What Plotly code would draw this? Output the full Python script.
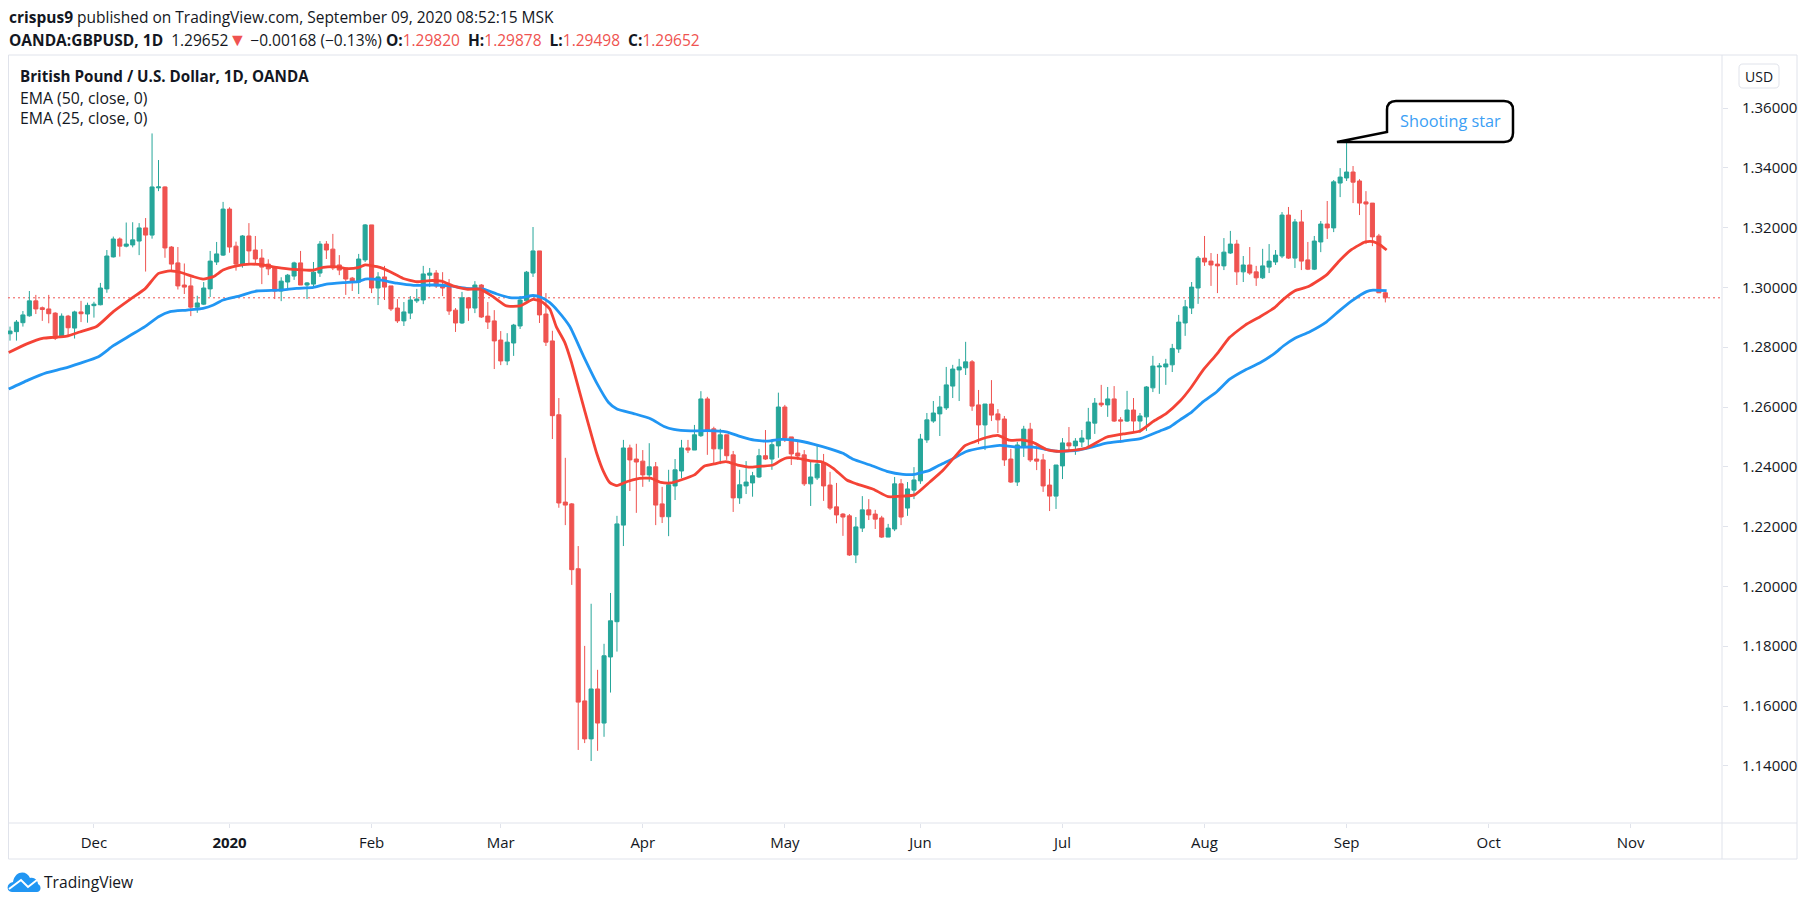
import plotly.graph_objects as go

## daily GBPUSD candles
opens = [1.2845,1.2852,1.2882,1.2905,1.2955,1.2932,1.2928,1.2914,1.2835,1.2904,
         1.2864,1.2918,1.2911,1.2939,1.2942,1.2995,1.3102,1.3162,1.3138,1.3142,
         1.3155,1.3199,1.3175,1.3333,1.3336,1.3135,1.3082,1.3008,1.3005,1.2934,
         1.2944,1.2995,1.3085,1.3108,1.3262,1.3138,1.3075,1.3172,1.3125,1.3098,
         1.3078,1.3065,1.2988,1.3018,1.3038,1.3082,1.3008,1.3011,1.3048,1.3145,
         1.3128,1.3075,1.3065,1.3031,1.3018,1.3092,1.3209,1.2998,1.3035,1.3005,
         1.2931,1.2888,1.2914,1.2955,1.2958,1.3041,1.3048,1.3008,1.3001,1.2924,
         1.2881,1.2965,1.2931,1.3008,1.2904,1.2888,1.2824,1.2754,1.2814,1.2871,
         1.2955,1.3048,1.3122,1.2911,1.2821,1.2574,1.2282,1.2276,1.2059,1.1617,
         1.1490,1.1657,1.1543,1.1764,1.1882,1.2205,1.2463,1.2426,1.2419,1.2373,
         1.2400,1.2276,1.2233,1.2336,1.2386,1.2463,1.2456,1.2504,1.2627,1.2527,
         1.2460,1.2507,1.2440,1.2296,1.2336,1.2346,1.2366,1.2437,1.2426,1.2470,
         1.2600,1.2500,1.2446,1.2440,1.2343,1.2363,1.2413,1.2339,1.2266,1.2242,
         1.2236,1.2105,1.2195,1.2256,1.2242,1.2229,1.2165,1.2192,1.2343,1.2262,
         1.2322,1.2353,1.2490,1.2553,1.2577,1.2597,1.2670,1.2724,1.2731,1.2751,
         1.2607,1.2540,1.2610,1.2577,1.2560,1.2426,1.2349,1.2470,1.2526,1.2426,
         1.2423,1.2339,1.2302,1.2403,1.2480,1.2470,1.2483,1.2493,1.2546,1.2613,
         1.2607,1.2627,1.2557,1.2553,1.2590,1.2553,1.2567,1.2664,1.2734,1.2734,
         1.2741,1.2794,1.2881,1.2931,1.2998,1.3098,1.3088,1.3078,1.3072,1.3115,
         1.3145,1.3052,1.3075,1.3052,1.3032,1.3068,1.3085,1.3105,1.3242,1.3098,
         1.3219,1.3092,1.3061,1.3152,1.3212,1.3199,1.3349,1.3366,1.3386,1.3356,
         1.3286,1.3282,1.3172,1.29820]
highs = [1.2869,1.2891,1.2921,1.2988,1.2975,1.2936,1.2975,1.2917,1.2913,1.2908,
         1.2922,1.2955,1.2949,1.2952,1.3015,1.3125,1.3170,1.3167,1.3217,1.3218,
         1.3215,1.3232,1.3515,1.3426,1.3338,1.3138,1.3135,1.3080,1.3034,1.2972,
         1.3018,1.3122,1.3152,1.3286,1.3268,1.3153,1.3175,1.3215,1.3172,1.3128,
         1.3094,1.3068,1.3034,1.3045,1.3086,1.3122,1.3018,1.3085,1.3155,1.3155,
         1.3179,1.3108,1.3065,1.3035,1.3112,1.3212,1.3209,1.3051,1.3072,1.3005,
         1.2961,1.2951,1.2971,1.2995,1.3072,1.3065,1.3058,1.3051,1.3028,1.2931,
         1.2985,1.2968,1.3021,1.3011,1.2951,1.2924,1.2854,1.2847,1.2878,1.2971,
         1.3055,1.3202,1.3122,1.2981,1.2855,1.2630,1.2430,1.2279,1.2135,1.1801,
         1.1942,1.1721,1.1808,1.1978,1.2236,1.2490,1.2474,1.2477,1.2456,1.2479,
         1.2416,1.2333,1.2390,1.2426,1.2490,1.2490,1.2540,1.2653,1.2634,1.2534,
         1.2527,1.2507,1.2453,1.2390,1.2419,1.2383,1.2460,1.2523,1.2487,1.2648,
         1.2607,1.2500,1.2490,1.2456,1.2423,1.2470,1.2443,1.2383,1.2346,1.2245,
         1.2242,1.2232,1.2302,1.2292,1.2256,1.2236,1.2209,1.2366,1.2359,1.2349,
         1.2399,1.2510,1.2580,1.2620,1.2637,1.2734,1.2741,1.2761,1.2818,1.2757,
         1.2657,1.2610,1.2690,1.2593,1.2570,1.2460,1.2483,1.2537,1.2547,1.2470,
         1.2443,1.2393,1.2406,1.2496,1.2533,1.2496,1.2523,1.2597,1.2630,1.2674,
         1.2667,1.2670,1.2566,1.2654,1.2630,1.2580,1.2670,1.2771,1.2747,1.2761,
         1.2811,1.2908,1.2958,1.3018,1.3105,1.3172,1.3115,1.3112,1.3165,1.3189,
         1.3159,1.3105,1.3135,1.3072,1.3129,1.3145,1.3125,1.3252,1.3269,1.3229,
         1.3259,1.3152,1.3172,1.3222,1.3289,1.3359,1.3399,1.3486,1.3406,1.3362,
         1.3322,1.3282,1.3179,1.29878]
lows = [1.2822,1.2822,1.2869,1.2902,1.2911,1.2888,1.2880,1.2824,1.2833,1.2835,
        1.2829,1.2884,1.2882,1.2899,1.2940,1.2982,1.3100,1.3103,1.3134,1.3134,
        1.3108,1.3053,1.3163,1.3322,1.3099,1.3058,1.2993,1.2978,1.2904,1.2915,
        1.2941,1.2968,1.3075,1.3105,1.3116,1.3056,1.3066,1.3080,1.3075,1.3011,
        1.3041,1.2961,1.2954,1.2991,1.3025,1.3008,1.2961,1.2998,1.3035,1.3095,
        1.3058,1.3041,1.2975,1.2988,1.2978,1.3085,1.2981,1.2941,1.2958,1.2921,
        1.2881,1.2871,1.2894,1.2948,1.2944,1.3001,1.2998,1.2971,1.2908,1.2851,
        1.2878,1.2888,1.2914,1.2898,1.2861,1.2727,1.2740,1.2740,1.2771,1.2861,
        1.2951,1.3035,1.2881,1.2804,1.2493,1.2263,1.2205,1.2005,1.1453,1.1476,
        1.1416,1.1450,1.1497,1.1645,1.1782,1.2135,1.2319,1.2246,1.2333,1.2350,
        1.2205,1.2212,1.2168,1.2289,1.2362,1.2446,1.2456,1.2500,1.2440,1.2413,
        1.2409,1.2423,1.2249,1.2276,1.2309,1.2300,1.2363,1.2423,1.2390,1.2430,
        1.2483,1.2406,1.2423,1.2336,1.2269,1.2356,1.2286,1.2256,1.2211,1.2169,
        1.2102,1.2078,1.2182,1.2222,1.2192,1.2162,1.2165,1.2185,1.2205,1.2236,
        1.2292,1.2343,1.2480,1.2547,1.2503,1.2590,1.2630,1.2620,1.2707,1.2587,
        1.2476,1.2456,1.2553,1.2513,1.2403,1.2346,1.2336,1.2433,1.2416,1.2389,
        1.2316,1.2252,1.2259,1.2359,1.2456,1.2440,1.2466,1.2463,1.2510,1.2600,
        1.2567,1.2550,1.2480,1.2550,1.2516,1.2513,1.2520,1.2650,1.2644,1.2674,
        1.2717,1.2781,1.2838,1.2911,1.2945,1.3072,1.3005,1.2981,1.3058,1.3112,
        1.3008,1.3018,1.3042,1.3005,1.3028,1.3048,1.3075,1.3098,1.3095,1.3065,
        1.3058,1.3058,1.3058,1.3118,1.3162,1.3185,1.3302,1.3356,1.3282,1.3242,
        1.3145,1.3138,1.2982,1.29498]
closes = [1.2854,1.2884,1.2908,1.2955,1.2928,1.2926,1.2912,1.2830,1.2904,1.2865,
          1.2918,1.2912,1.2940,1.2944,1.2998,1.3105,1.3162,1.3138,1.3145,1.3159,
          1.3199,1.3175,1.3336,1.3336,1.3132,1.3078,1.3005,1.3001,1.2934,1.2948,
          1.2998,1.3088,1.3112,1.3262,1.3135,1.3078,1.3172,1.3122,1.3095,1.3068,
          1.3062,1.2988,1.3021,1.3041,1.3082,1.3008,1.3015,1.3051,1.3145,1.3125,
          1.3065,1.3058,1.3028,1.3021,1.3095,1.3209,1.2998,1.3035,1.3001,1.2928,
          1.2888,1.2918,1.2958,1.2961,1.3045,1.3048,1.3005,1.2998,1.2921,1.2881,
          1.2965,1.2931,1.3008,1.2901,1.2884,1.2821,1.2754,1.2817,1.2874,1.2958,
          1.3051,1.3122,1.2908,1.2817,1.2571,1.2279,1.2272,1.2056,1.1613,1.1490,
          1.1657,1.1543,1.1768,1.1885,1.2209,1.2463,1.2423,1.2416,1.2373,1.2400,
          1.2272,1.2233,1.2340,1.2390,1.2463,1.2456,1.2507,1.2627,1.2523,1.2460,
          1.2507,1.2437,1.2296,1.2340,1.2349,1.2370,1.2437,1.2426,1.2474,1.2600,
          1.2496,1.2443,1.2436,1.2343,1.2366,1.2409,1.2336,1.2262,1.2239,1.2232,
          1.2105,1.2199,1.2256,1.2239,1.2225,1.2165,1.2195,1.2343,1.2232,1.2326,
          1.2356,1.2493,1.2557,1.2580,1.2600,1.2674,1.2727,1.2734,1.2751,1.2603,
          1.2540,1.2610,1.2573,1.2557,1.2423,1.2349,1.2473,1.2526,1.2423,1.2419,
          1.2336,1.2302,1.2406,1.2480,1.2470,1.2486,1.2496,1.2550,1.2613,1.2607,
          1.2627,1.2553,1.2553,1.2590,1.2553,1.2570,1.2667,1.2737,1.2737,1.2744,
          1.2796,1.2884,1.2935,1.3001,1.3098,1.3085,1.3075,1.3072,1.3118,1.3145,
          1.3052,1.3075,1.3048,1.3032,1.3072,1.3088,1.3108,1.3242,1.3098,1.3219,
          1.3088,1.3061,1.3155,1.3212,1.3199,1.3353,1.3369,1.3386,1.3352,1.3282,
          1.3279,1.3169,1.2982,1.29652]

## EMA lines, points taken along each curve (bar position, price)
ema25_bar = [-0.2,2.6,5.2,6.7,8.8,10.8,13.4,16,18.6,20.9,23,24.8,26.6,28.4,29.9,31.5,33,35.1,37.2,39.2,
             41.3,43.9,47,48.5,50.6,52.1,53.9,55,57.3,58.8,60.9,63,65,66.8,68.6,70.7,72.8,74.8,76.9,79,81,
             82.3,83.6,84.6,85.9,86.9,88.8,90.9,91.9,92.9,94,95.5,97.1,99.2,100.8,102.3,103.9,106,107.5,
             109.1,110.9,112.7,114.8,116.4,118.2,119.5,120.3,122.1,123.9,125.7,127.5,129.6,131.1,133.7,136,
             138.3,140.1,142.5,144.3,146.1,147.9,149.4,151.2,153,154.8,156.6,158.5,160.5,162.1,164.1,166.7,
             169.8,172.4,175,177,179.1,181.2,182.8,184.8,186.9,188.9,191.3,193.6,195.9,197.2,199,201.1,
             203.9,206,207.8,209.9,211.1,212.2,213.2]
ema25 = [1.2782,1.2811,1.2830,1.2833,1.2837,1.2851,1.2869,1.2919,1.2960,1.2995,1.3047,1.3055,1.3049,1.3036,
         1.3028,1.3036,1.3058,1.3072,1.3078,1.3075,1.3067,1.3060,1.3058,1.3067,1.3069,1.3063,1.3066,1.3075,
         1.3067,1.3053,1.3030,1.3019,1.3023,1.3021,1.3005,1.2994,1.2994,1.2969,1.2938,1.2938,1.2960,1.2953,
         1.2928,1.2869,1.2817,1.2753,1.2604,1.2443,1.2385,1.2347,1.2337,1.2350,1.2360,1.2362,1.2348,1.2346,
         1.2356,1.2373,1.2402,1.2410,1.2417,1.2406,1.2399,1.2402,1.2406,1.2423,1.2430,1.2428,1.2420,1.2417,
         1.2395,1.2356,1.2343,1.2325,1.2300,1.2302,1.2306,1.2350,1.2384,1.2428,1.2471,1.2484,1.2498,1.2505,
         1.2489,1.2490,1.2481,1.2458,1.2452,1.2454,1.2463,1.2499,1.2510,1.2520,1.2551,1.2579,1.2620,1.2662,
         1.2724,1.2777,1.2833,1.2874,1.2902,1.2933,1.2960,1.2989,1.3003,1.3042,1.3092,1.3127,1.3152,1.3153,
         1.3142,1.3125]
ema50_bar = [-0.2,2.8,5.7,8.3,10.8,13.7,16,18.6,20.9,23,24.8,27.4,29.9,31.5,33,35.6,38.2,41.8,44.4,47,49,
             51.6,53.9,55,57.3,59.9,62.5,65.5,68.1,70.7,73.3,75.4,77.4,79.5,81,82.3,83.6,84.9,86.7,88.8,
             90.9,92.7,94,96.6,99.2,101.3,102.8,105.4,108,110.9,113.3,115.3,117.4,119.5,121.8,124.4,127,
             129,130.6,133.2,135.8,138.3,140.1,142.5,144,146.1,148.1,150.7,153.3,155.9,158.5,160.5,162.1,
             165.2,167.2,169.8,172.4,175.2,178.1,179.7,181.2,183,184.8,186.9,188.9,191.3,193.6,195.9,197.2,
             199,201.3,203.9,206,207.8,210.1,211.1,213.2]
ema50 = [1.2660,1.2690,1.2715,1.2729,1.2746,1.2768,1.2805,1.2839,1.2869,1.2902,1.2919,1.2924,1.2930,1.2941,
         1.2958,1.2972,1.2988,1.2991,1.2997,1.3000,1.3011,1.3016,1.3019,1.3028,1.3025,1.3014,1.3007,1.3008,
         1.3005,1.2997,1.2994,1.2978,1.2966,1.2967,1.2973,1.2966,1.2949,1.2920,1.2869,1.2771,1.2679,1.2615,
         1.2593,1.2578,1.2561,1.2535,1.2525,1.2520,1.2521,1.2517,1.2500,1.2489,1.2486,1.2492,1.2488,1.2476,
         1.2460,1.2445,1.2425,1.2406,1.2385,1.2375,1.2375,1.2389,1.2406,1.2428,1.2451,1.2464,1.2472,1.2466,
         1.2466,1.2458,1.2452,1.2455,1.2464,1.2479,1.2486,1.2495,1.2520,1.2534,1.2557,1.2583,1.2618,1.2651,
         1.2693,1.2724,1.2748,1.2780,1.2804,1.2830,1.2852,1.2885,1.2924,1.2955,1.2986,1.2991,1.2989]

last_price = closes[-1]
price_ticks = [1.14,1.16,1.18,1.20,1.22,1.24,1.26,1.28,1.30,1.32,1.34,1.36]
month_labels = ["Dec","<b>2020</b>","Feb","Mar","Apr","May","Jun","Jul","Aug","Sep","Oct","Nov"]
month_bars = [13,34,56,76,98,120,141,163,185,207,229,251]

RED = "#ef5350"
GREEN = "#26a69a"
BLUE = "#2196f3"
LINE_RED = "#f44336"
BORDER = "#e0e3eb"
TEXT = "#131722"
FONT = "Open Sans"

FIG_W, FIG_H = 1805, 906

## pixel position of the plot frame in the window -> paper coords
LEFT, RIGHT, TOP, BOTTOM = 8, 1722, 55, 823
def px(x):
    return (x-LEFT)/(RIGHT-LEFT)
def py(y):
    return (BOTTOM-y)/(BOTTOM-TOP)
def pt(x, y):
    return f"{px(x):.5f},{py(y):.5f}"

bars = list(range(len(closes)))

fig = go.Figure()
fig.add_trace(go.Candlestick(x=bars, open=opens, high=highs, low=lows, close=closes,
                             increasing=dict(line=dict(color=GREEN, width=1), fillcolor=GREEN),
                             decreasing=dict(line=dict(color=RED, width=1), fillcolor=RED),
                             showlegend=False, hoverinfo="skip"))
fig.add_trace(go.Scatter(x=ema50_bar, y=ema50, mode="lines", showlegend=False,
                         line=dict(color=BLUE, width=2.8, shape="spline", smoothing=0.5)))
fig.add_trace(go.Scatter(x=ema25_bar, y=ema25, mode="lines", showlegend=False,
                         line=dict(color=LINE_RED, width=2.8, shape="spline", smoothing=0.5)))

shapes = [
    dict(type="rect", xref="paper", yref="paper", x0=px(8.5), x1=px(1797), y0=py(55), y1=py(859),
         line=dict(color=BORDER, width=1), layer="below"),
    dict(type="line", xref="paper", yref="paper", x0=1, x1=1, y0=py(55), y1=py(859),
         line=dict(color=BORDER, width=1), layer="below"),
    dict(type="line", xref="paper", yref="paper", x0=0, x1=px(1797), y0=0, y1=0,
         line=dict(color=BORDER, width=1), layer="below"),
    dict(type="line", xref="paper", yref="y", x0=0, x1=1, y0=last_price, y1=last_price,
         line=dict(color=RED, width=1, dash="2px,3px"), layer="below"),
]

## callout with the pointer
callout = ("M" + pt(1337, 142) + " L" + pt(1387, 132) + " L" + pt(1387, 110)
           + " Q" + pt(1387, 101) + " " + pt(1396, 101) + " L" + pt(1504, 101)
           + " Q" + pt(1513, 101) + " " + pt(1513, 110) + " L" + pt(1513, 133)
           + " Q" + pt(1513, 142) + " " + pt(1504, 142) + " Z")
shapes.append(dict(type="path", xref="paper", yref="paper", path=callout, fillcolor="white",
                   line=dict(color="black", width=2.5), layer="above"))

## USD box
usd = ("M" + pt(1739, 68) + " Q" + pt(1739, 64) + " " + pt(1743, 64) + " L" + pt(1775, 64)
       + " Q" + pt(1779, 64) + " " + pt(1779, 68) + " L" + pt(1779, 84)
       + " Q" + pt(1779, 88) + " " + pt(1775, 88) + " L" + pt(1743, 88)
       + " Q" + pt(1739, 88) + " " + pt(1739, 84) + " Z")
shapes.append(dict(type="path", xref="paper", yref="paper", path=usd, fillcolor="white",
                   line=dict(color=BORDER, width=1)))

## TradingView cloud logo
cloud = ("M" + pt(12, 892) + " C" + pt(6, 892) + " " + pt(6, 883) + " " + pt(13, 882)
         + " C" + pt(15, 870) + " " + pt(27, 870) + " " + pt(30, 878)
         + " C" + pt(36, 877) + " " + pt(38, 882) + " " + pt(38, 884)
         + " C" + pt(42, 886) + " " + pt(41, 892) + " " + pt(37, 892) + " Z")
shapes.append(dict(type="path", xref="paper", yref="paper", path=cloud, fillcolor=BLUE,
                   line=dict(color=BLUE, width=0)))
zigzag = "M" + pt(9, 889) + " L" + pt(21, 880) + " L" + pt(28, 887) + " L" + pt(37, 880)
shapes.append(dict(type="path", xref="paper", yref="paper", path=zigzag,
                   line=dict(color="white", width=2)))

def label(text, x, y, size, color=TEXT, xanchor="left"):
    return dict(text=text, xref="paper", yref="paper", x=px(x), y=py(y), xanchor=xanchor, yanchor="middle",
                showarrow=False, align="left", borderpad=0, font=dict(family=FONT, size=size, color=color))

def red(s):
    return f'<span style="color:{RED}">{s}</span>'

annotations = [
    label("<b>crispus9</b> published on TradingView.com, September 09, 2020 08:52:15 MSK", 8, 16.5, 15.5),
    label("<b>OANDA:GBPUSD, 1D</b>&nbsp;&nbsp;1.29652" + '<span style="color:%s;font-size:18px">▼</span>' % RED
          + " −0.00168 (−0.13%)&nbsp;<b>O:</b>" + red("1.29820")
          + "&nbsp;&nbsp;<b>H:</b>" + red("1.29878") + "&nbsp;&nbsp;<b>L:</b>" + red("1.29498")
          + "&nbsp;&nbsp;<b>C:</b>" + red("1.29652"),
          8, 39, 15.5),
    label("<b>British Pound / U.S. Dollar, 1D, OANDA</b>", 19, 76.5, 15.2),
    label("EMA (50, close, 0)", 19, 98, 15.8),
    label("EMA (25, close, 0)", 19, 118.5, 15.8),
    label("Shooting star", 1399, 120.5, 16.3, color="#3ba0f5"),
    label("USD", 1759, 76, 14, xanchor="center"),
    label("TradingView", 43, 882, 15.6),
]

fig.update_layout(
    width=FIG_W, height=FIG_H,
    paper_bgcolor="white", plot_bgcolor="white",
    margin=dict(l=LEFT, r=FIG_W-RIGHT, t=TOP, b=FIG_H-BOTTOM, autoexpand=False),
    boxgap=0.1,
    xaxis=dict(range=[-0.31, 265.14], rangeslider=dict(visible=False), showgrid=False, zeroline=False,
               tickmode="array", tickvals=month_bars, ticktext=month_labels,
               ticks="outside", ticklen=4, tickcolor=BORDER, showline=False, ticklabelstandoff=2,
               tickfont=dict(family=FONT, size=15, color=TEXT)),
    yaxis=dict(range=[1.12087, 1.37773], side="right", showgrid=False, zeroline=False,
               tickmode="array", tickvals=price_ticks, tickformat=".5f",
               ticks="outside", ticklen=5, tickcolor=BORDER, showline=False, ticklabelstandoff=11,
               tickfont=dict(family=FONT, size=15, color=TEXT)),
    shapes=shapes,
    annotations=annotations,
    hovermode=False,
)

## drop the default body margin so the figure fills the window from the corner
fig.write_html("out.html", config={"displayModeBar": False}, post_script="document.body.style.margin='0'")
